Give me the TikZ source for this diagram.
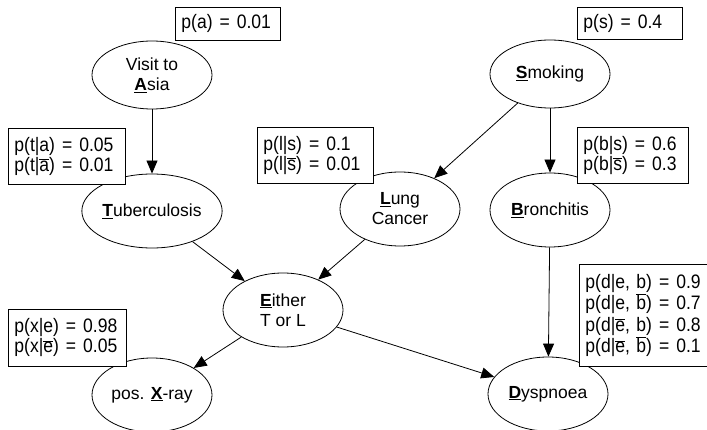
\documentclass[tikz,border=0pt]{standalone}
\usepackage{fontspec}
\setmainfont{Liberation Sans}
\newfontfamily\cptfont[FakeStretch=0.9]{Liberation Sans}
\usetikzlibrary{arrows.meta,shapes.geometric}

% bold underlined initial of a variable
\newcommand{\initial}[1]{\underline{\textbf{#1}}}
% negated value
\newcommand{\notval}[1]{$\overline{\mbox{#1}}$}
\newcommand{\eqs}{\hspace{7pt}=\hspace{7pt}}

\begin{document}
\begin{tikzpicture}[x=1pt,y=-1pt,
    var/.style={ellipse,draw,line width=0.8pt,minimum width=120pt,minimum height=74pt,
      inner sep=0pt,align=center,font=\fontsize{17.5}{20}\selectfont},
    cpt/.style={draw,fill=white,line width=0.8pt,anchor=north west,align=left,
      inner xsep=6pt,inner ysep=0pt,font=\cptfont\fontsize{19.5}{20}\selectfont},
    link/.style={-{Triangle[length=13pt,width=11pt]},line width=0.8pt}]
  \useasboundingbox (0,0) rectangle (707,430);

  % Variables
  \node[var,minimum height=68pt] (asia)  at (152,75)  {Visit to\\\initial{A}sia};
  \node[var,minimum height=68pt] (smoke) at (550,74)  {\initial{S}moking};
  \node[var] (tub)   at (152,211) {\initial{T}uberculosis};
  \node[var] (lung)  at (400,209) {\initial{L}ung\\Cancer};
  \node[var] (bron)  at (550,210) {\initial{B}ronchitis};
  \node[var] (either) at (283,310) {\initial{E}ither\\T or L};
  \node[var] (xray)  at (152,395) {pos. \initial{X}-ray};
  \node[var] (dysp)  at (548,394) {\initial{D}yspnoea};

  % Links
  \draw[link] (asia) -- (tub);
  \draw[link] (smoke) -- (lung);
  \draw[link] (smoke) -- (bron);
  \draw[link] (tub) -- (either);
  \draw[link] (lung) -- (either);
  \draw[link] (either) -- (xray);
  \draw[link] (either) -- (dysp);
  \draw[link] (bron) -- (dysp);

  % Probability tables (drawn on top)
  \node[cpt,text width=93pt,minimum height=33pt] (pa) at (175,7) {p(a)\eqs 0.01};
  \node[cpt,text width=93pt,minimum height=32pt] (ps) at (577,7) {p(s)\eqs 0.4};
  \node[cpt,text width=105pt,minimum height=56pt] (pt) at (8,128)
    {p(t|a)\eqs 0.05\\p(t|\notval{a})\eqs 0.01};
  \node[cpt,text width=104pt,minimum height=56pt] (pl) at (257,127)
    {p(l|s)\eqs 0.1\\p(l|\notval{s})\eqs 0.01};
  \node[cpt,text width=99pt,minimum height=56pt] (pb) at (577,127)
    {p(b|s)\eqs 0.6\\p(b|\notval{s})\eqs 0.3};
  \node[cpt,text width=106pt,minimum height=57pt] (px) at (8,309)
    {p(x|e)\eqs 0.98\\p(x|\notval{e})\eqs 0.05};
  \node[cpt,text width=117pt,minimum height=102pt,font=\cptfont\fontsize{19.5}{21.5}\selectfont] (pd) at (579,264)
    {p(d|e, b)\eqs 0.9\\p(d|e, \notval{b})\eqs 0.7\\p(d|\notval{e}, b)\eqs 0.8\\p(d|\notval{e}, \notval{b})\eqs 0.1};
\end{tikzpicture}
\end{document}
